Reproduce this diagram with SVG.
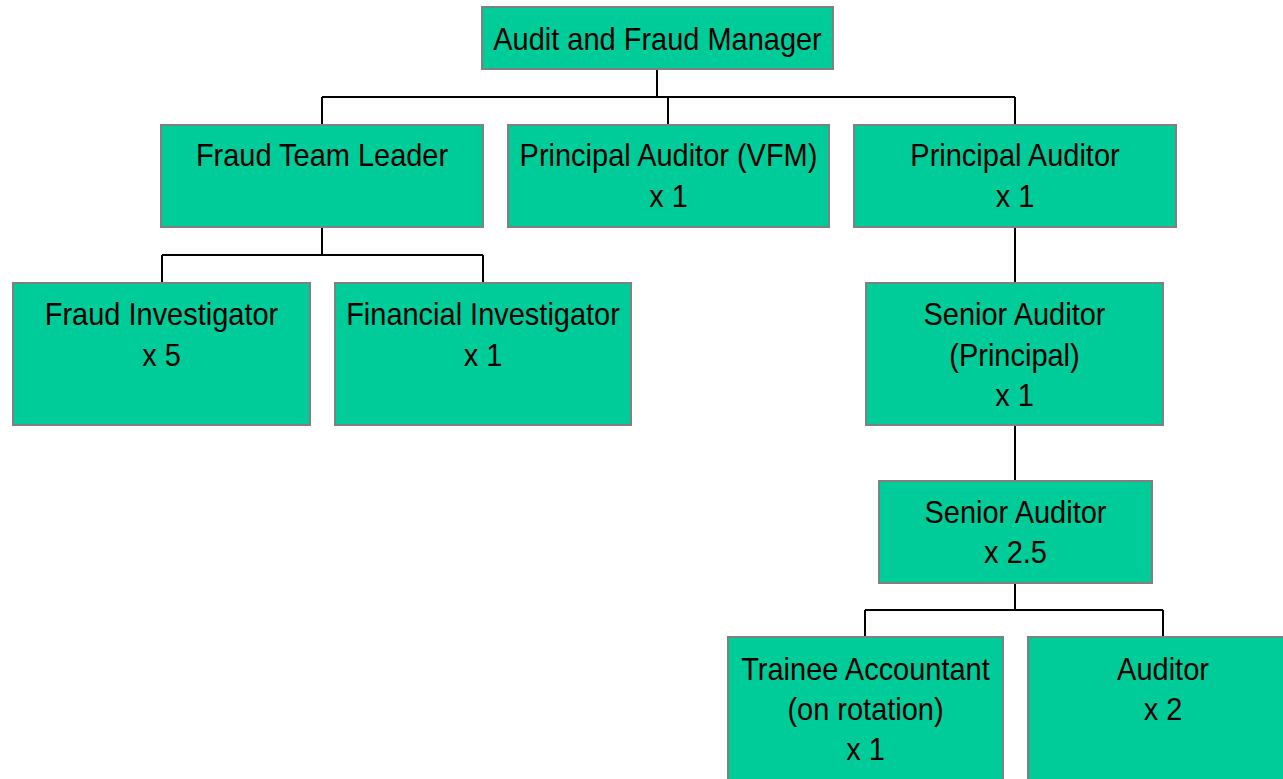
<svg xmlns="http://www.w3.org/2000/svg" width="1283" height="779" viewBox="0 0 1283 779">
<style>
.box{fill:#00CC99;stroke:#808080;stroke-width:2}
.lbl{font-family:"Liberation Sans",Arial,sans-serif;font-size:31.5px;fill:#000;text-anchor:middle}
.con{stroke:#000;stroke-width:2;fill:none}
</style>
<rect width="1283" height="779" fill="#fff"/>
<g id="connectors">
<path class="con" d="M657,69V97M322,97H1015M322,97V125M668,97V125M1015,97V125"/>
<path class="con" d="M322,227V255M162,255H483M162,255V283M483,255V283"/>
<path class="con" d="M1015,227V283M1015,425V481M1015,583V610M865,610H1163M865,610V637M1163,610V637"/>
</g>
<g id="n-manager"><rect class="box" x="482" y="7" width="351" height="62"/><g transform="translate(657.5,0) scale(0.92,1)"><text class="lbl" x="0" y="50">Audit and Fraud Manager</text></g></g>
<g id="n-ftl"><rect class="box" x="161" y="125" width="322" height="102"/><g transform="translate(322,0) scale(0.92,1)"><text class="lbl" x="0" y="166">Fraud Team Leader</text></g></g>
<g id="n-pavfm"><rect class="box" x="508" y="125" width="321" height="102"/><g transform="translate(668.5,0) scale(0.92,1)"><text class="lbl" x="0" y="166">Principal Auditor (VFM)</text><text class="lbl" x="0" y="207">x 1</text></g></g>
<g id="n-pa"><rect class="box" x="854" y="125" width="322" height="102"/><g transform="translate(1015,0) scale(0.92,1)"><text class="lbl" x="0" y="166">Principal Auditor</text><text class="lbl" x="0" y="207">x 1</text></g></g>
<g id="n-fi"><rect class="box" x="13" y="283" width="297" height="142"/><g transform="translate(161.5,0) scale(0.92,1)"><text class="lbl" x="0" y="325">Fraud Investigator</text><text class="lbl" x="0" y="366">x 5</text></g></g>
<g id="n-fin"><rect class="box" x="335" y="283" width="296" height="142"/><g transform="translate(483,0) scale(0.92,1)"><text class="lbl" x="0" y="325">Financial Investigator</text><text class="lbl" x="0" y="366">x 1</text></g></g>
<g id="n-sap"><rect class="box" x="866" y="283" width="297" height="142"/><g transform="translate(1014.5,0) scale(0.92,1)"><text class="lbl" x="0" y="325">Senior Auditor</text><text class="lbl" x="0" y="366">(Principal)</text><text class="lbl" x="0" y="406">x 1</text></g></g>
<g id="n-sa"><rect class="box" x="879" y="481" width="273" height="102"/><g transform="translate(1015.5,0) scale(0.92,1)"><text class="lbl" x="0" y="523">Senior Auditor</text><text class="lbl" x="0" y="563">x 2.5</text></g></g>
<g id="n-ta"><rect class="box" x="728" y="637" width="275" height="150"/><g transform="translate(865.5,0) scale(0.92,1)"><text class="lbl" x="0" y="680">Trainee Accountant</text><text class="lbl" x="0" y="720">(on rotation)</text><text class="lbl" x="0" y="760">x 1</text></g></g>
<g id="n-aud"><rect class="box" x="1028" y="637" width="270" height="150"/><g transform="translate(1163,0) scale(0.92,1)"><text class="lbl" x="0" y="680">Auditor</text><text class="lbl" x="0" y="720">x 2</text></g></g>
</svg>
